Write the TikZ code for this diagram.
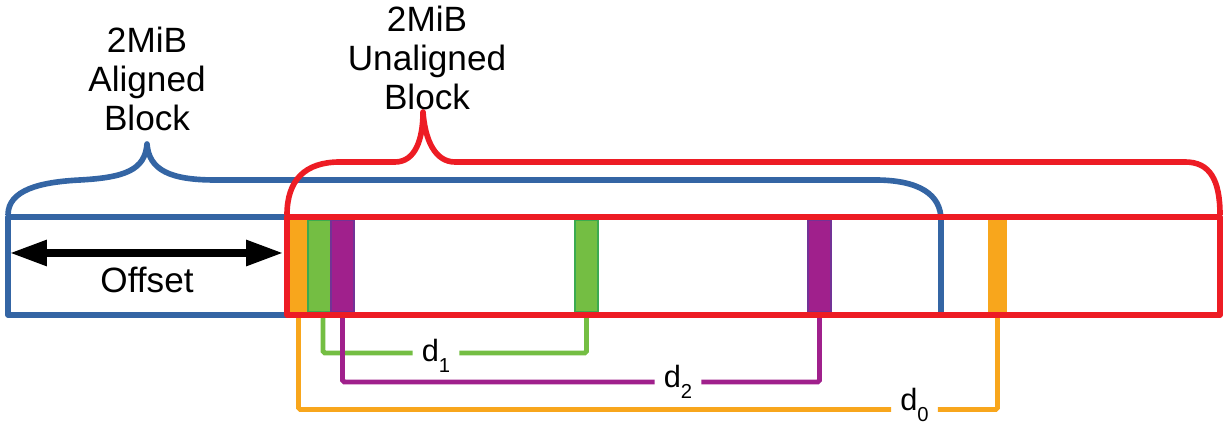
\documentclass[tikz,border=0pt]{standalone}
\usepackage{fontspec}
\setmainfont{Liberation Sans}
\usetikzlibrary{positioning,arrows.meta}
\definecolor{alblue}{RGB}{52,101,164}
\definecolor{unred}{RGB}{237,28,36}
\definecolor{pgorange}{RGB}{248,166,28}
\definecolor{pggreen}{RGB}{116,190,67}
\definecolor{pggreenedge}{RGB}{60,170,80}
\definecolor{pgpurple}{RGB}{160,32,140}
\definecolor{pgpurpleedge}{RGB}{115,50,150}
\newcommand{\dist}[1]{{\fontsize{17.5}{17.5}\selectfont d\smash{\raisebox{-6pt}{\fontsize{11.5}{11.5}\selectfont #1}}}}

\begin{document}
\begin{tikzpicture}[font=\fontsize{20}{22}\selectfont,
    blk/.style={line width=3.2pt, line join=round},
    page/.style={minimum height=1.84cm, inner sep=0pt, outer sep=0pt},
    link/.style={line width=2.8pt, rounded corners=1pt},
    lbl/.style={inner xsep=5pt, inner ysep=0pt}]
\useasboundingbox (0,0) rectangle (24.5,8.5);
% aligned block
\draw[blk, alblue] (0.16,2.2) rectangle (18.82,4.16);
\draw[blk, alblue] (0.16,4.2) .. controls (0.16,4.7) and (0.8,4.86) .. (1.6,4.9)
 .. controls (2.5,4.95) and (2.9,5.1) .. (2.94,5.62)
 .. controls (2.98,5.1) and (3.4,4.9) .. (4.3,4.9) -- (17.5,4.9)
 .. controls (18.4,4.9) and (18.82,4.6) .. (18.82,4.1);
\node[align=center] (al) at (2.94,6.92) {2MiB\\Aligned\\Block};
% pages
\node[page, fill=pgorange, minimum width=0.38cm] (o1) at (5.97,3.18) {};
\node[page, fill=pggreen, draw=pggreenedge, line width=0.6pt, minimum width=0.46cm] (g1) at (6.39,3.18) {};
\node[page, fill=pgpurple, draw=pgpurpleedge, line width=0.6pt, minimum width=0.46cm] (p1) at (6.85,3.18) {};
\node[page, fill=pggreen, draw=pggreenedge, line width=0.6pt, minimum width=0.46cm] (g2) at (11.73,3.18) {};
\node[page, fill=pgpurple, draw=pgpurpleedge, line width=0.6pt, minimum width=0.46cm] (p2) at (16.39,3.18) {};
\node[page, fill=pgorange, minimum width=0.38cm] (o2) at (19.95,3.18) {};
% distances
\node[lbl] (d1) at (8.72,1.49) {\dist{1}};
\node[lbl] (d2) at (13.56,0.97) {\dist{2}};
\node[lbl] (d0) at (18.29,0.51) {\dist{0}};
\draw[link, pggreen] ([xshift=0.07cm]g1.south) |- ([yshift=-0.05cm]d1.west);
\draw[link, pggreen] ([yshift=-0.05cm]d1.east) -| (g2.south);
\draw[link, pgpurple] (p1.south) |- ([yshift=-0.11cm]d2.west);
\draw[link, pgpurple] ([yshift=-0.11cm]d2.east) -| (p2.south);
\draw[link, pgorange] (o1.south) |- ([yshift=-0.2cm]d0.west);
\draw[link, pgorange] ([yshift=-0.2cm]d0.east) -| (o2.south);
% unaligned block
\draw[blk, unred] (5.74,2.2) rectangle (24.4,4.16);
\draw[blk, unred] (5.74,4.2) .. controls (5.74,4.9) and (6.1,5.26) .. (6.8,5.26) -- (7.9,5.26)
 .. controls (8.3,5.26) and (8.46,5.7) .. (8.46,6.26)
 .. controls (8.5,5.7) and (8.7,5.26) .. (9.1,5.26) -- (23.7,5.26)
 .. controls (24.2,5.26) and (24.4,4.9) .. (24.4,4.2);
\node[align=center] (ua) at (8.54,7.34) {2MiB\\Unaligned\\Block};
% offset
\coordinate (ol) at (0.2,3.44);
\coordinate (or) at (5.66,3.44);
\draw[line width=4pt, {Triangle[length=21pt,width=14pt]}-{Triangle[length=21pt,width=14pt]}] (ol) -- (or);
\node (off) at (2.94,2.9) {Offset};
\end{tikzpicture}
\end{document}
